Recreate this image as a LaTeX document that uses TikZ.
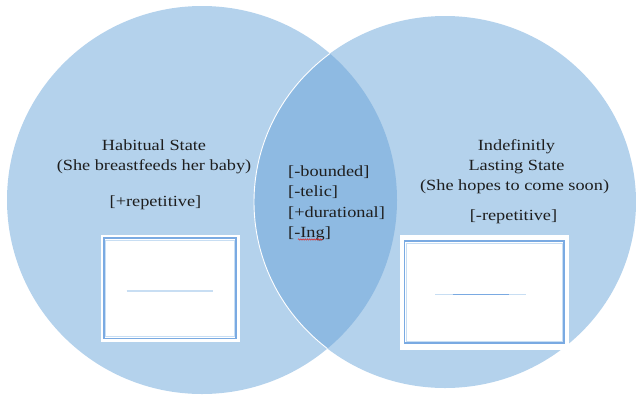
\documentclass[tikz,border=0pt]{standalone}
\usepackage{fontspec}
\setmainfont[FakeStretch=1.18]{Liberation Serif}
\usetikzlibrary{decorations.pathmorphing}
\definecolor{discA}{RGB}{180,210,236}
\definecolor{discAB}{RGB}{142,186,226}
\definecolor{frameblue}{RGB}{122,170,226}
\definecolor{framepale}{RGB}{200,222,243}
\definecolor{inkgray}{RGB}{30,30,30}
\definecolor{spellred}{RGB}{220,40,40}
\begin{document}
\begin{tikzpicture}[x=1pt,y=-1pt,
  lbl/.style={inner sep=0pt,anchor=base,text=inkgray,font=\fontsize{15.5}{18}\selectfont},
  lblw/.style={lbl,anchor=base west},
  whitebox/.style={draw=none,fill=white,inner sep=0pt,outer sep=0pt},
  bluerim/.style={draw=frameblue,line width=1.8pt},
  palerim/.style={draw=framepale,line width=1pt},
  lanepale/.style={draw=framepale,line width=1.4pt},
  lanedark/.style={draw=frameblue,line width=1.6pt},
  squiggle/.style={draw=spellred,line width=0.5pt,decorate,decoration={snake,amplitude=0.7pt,segment length=2.2pt}}]
\useasboundingbox (0,0) rectangle (636,394);

% the two overlapping discs
\fill[discA] (202,200) ellipse [x radius=195pt, y radius=194pt];
\fill[discA] (445,202) ellipse [x radius=191pt, y radius=186pt];
% shared region
\begin{scope}
  \clip (202,200) ellipse [x radius=195pt, y radius=194pt];
  \fill[discAB] (445,202) ellipse [x radius=191pt, y radius=186pt];
  \draw[white,line width=0.9pt] (445,202) ellipse [x radius=191pt, y radius=186pt];
\end{scope}

% left disc labels
\node[lbl] (habA) at (154,150) {Habitual State};
\node[lbl] (habB) at (154,170.5) {(She breastfeeds her baby)};
\node[lbl] (habC) at (155.5,206) {[+repetitive]};

% shared features
\node[lblw] (fA) at (288,176.7) {[-bounded]};
\node[lblw] (fB) at (288,196.9) {[-telic]};
\node[lblw] (fC) at (288,217.1) {[+durational]};
\node[lblw] (fD) at (288,237.3) {[-Ing]};
\draw[squiggle] ([xshift=10pt,yshift=-2.2pt]fD.base west) -- ([xshift=34.5pt,yshift=-2.2pt]fD.base west);

% right disc labels
\node[lbl] (indA) at (516.5,150.7) {Indefinitly};
\node[lbl] (indB) at (516.5,170.7) {Lasting State};
\node[lbl] (indC) at (514.6,190.7) {(She hopes to come soon)};
\node[lbl] (indD) at (513.5,220.5) {[-repetitive]};

% left timeline frame
\node[whitebox,minimum width=139pt,minimum height=107pt] (lbox) at (170,288.5) {};
\draw[bluerim] ([shift={(3.6pt,-3.2pt)}]lbox.north west) rectangle ([shift={(-3.6pt,3.6pt)}]lbox.south east);
\draw[palerim] ([shift={(5.4pt,-5pt)}]lbox.north west) rectangle ([shift={(-5.4pt,5.4pt)}]lbox.south east);
\draw[lanepale] ([shift={(-43.3pt,-2.5pt)}]lbox.center) -- ([shift={(42.7pt,-2.5pt)}]lbox.center);

% right timeline frame
\node[whitebox,minimum width=169.8pt,minimum height=115.8pt] (rbox) at (484.4,292.4) {};
\draw[bluerim] ([shift={(5pt,-6.8pt)}]rbox.north west) rectangle ([shift={(-5pt,7pt)}]rbox.south east);
\draw[palerim] ([shift={(6.8pt,-8.6pt)}]rbox.north west) rectangle ([shift={(-6.8pt,8.8pt)}]rbox.south east);
\draw[lanepale] ([shift={(-49pt,-1.9pt)}]rbox.center) -- ([shift={(41.6pt,-1.9pt)}]rbox.center);
\draw[lanedark] ([shift={(-31.7pt,-1.9pt)}]rbox.center) -- ([shift={(24.6pt,-1.9pt)}]rbox.center);
\end{tikzpicture}
\end{document}
